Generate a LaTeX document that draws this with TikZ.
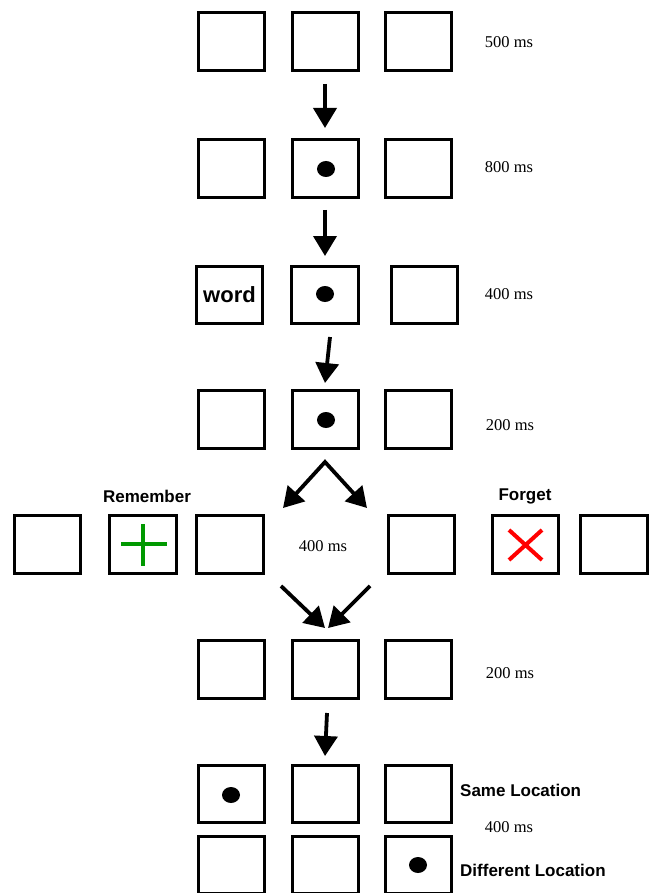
\documentclass[tikz,border=0pt]{standalone}
\usepackage{fontspec}
\setmainfont{Liberation Serif}
\setsansfont{Liberation Sans}
\usetikzlibrary{arrows.meta,shapes.geometric}
\begin{document}
\begin{tikzpicture}[x=1pt,y=-1pt,
  frame/.style={draw, line width=2.6pt, minimum width=66.5pt, minimum height=57.5pt, inner sep=0pt},
  dot/.style={fill=black, ellipse, minimum width=18pt, minimum height=16pt, inner sep=0pt},
  timing/.style={font=\fontsize{16.5}{18}\selectfont, inner sep=0pt},
  label/.style={font=\sffamily\bfseries\fontsize{17}{19}\selectfont, inner sep=0pt},
  flow/.style={line width=3.8pt, -{Triangle[width=23pt,length=20pt]}},
  twoway/.style={line width=3.8pt, line join=miter, {Triangle[width=23pt,length=20pt]}-{Triangle[width=23pt,length=20pt]}},
  greencross/.style={draw=green!60!black, line width=4pt},
  redcross/.style={draw=red, line width=4pt}]
\useasboundingbox (0,0) rectangle (650,893);
% row 1
\node[frame] (a1) at (231.5,41.5) {};
\node[frame] (a2) at (325.5,41.5) {};
\node[frame] (a3) at (418.5,41.5) {};
\node[timing] (ta) at (509,42) {500 ms};
% row 2
\node[frame] (b1) at (231.5,168.5) {};
\node[frame] (b2) at (325.5,168.5) {};
\node[frame] (b3) at (418.5,168.5) {};
\node[dot] (bd) at (326,169) {};
\node[timing] (tb) at (509,167) {800 ms};
% row 3
\node[frame, font=\sffamily\bfseries\fontsize{22}{24}\selectfont] (c1) at (229.5,295) {word};
\node[frame] (c2) at (325,295) {};
\node[frame] (c3) at (424.5,295) {};
\node[dot] (cd) at (325,294) {};
\node[timing] (tc) at (509,294) {400 ms};
% row 4
\node[frame] (d1) at (231.5,419.5) {};
\node[frame] (d2) at (325.5,419.5) {};
\node[frame] (d3) at (418.5,419.5) {};
\node[dot] (dd) at (326,420) {};
\node[timing] (td) at (510,425) {200 ms};
% row 5
\node[frame] (e1) at (47.5,544.5) {};
\node[frame] (e2) at (143,544.5) {};
\node[frame] (e3) at (230,544.5) {};
\node[frame] (e4) at (421.5,544.5) {};
\node[frame] (e5) at (525.5,544.5) {};
\node[frame] (e6) at (614,544.5) {};
\node[label] (rem) at (147,496) {Remember};
\node[label] (forg) at (525,496) {Forget};
\node[timing] (te) at (323,546) {400 ms};
\draw[greencross] (121,544) -- (167,544) (143,524) -- (143,566);
\draw[redcross] (509,530) -- (542,560) (509,560) -- (542,530);
% row 6
\node[frame] (f1) at (231.5,669.5) {};
\node[frame] (f2) at (325.5,669.5) {};
\node[frame] (f3) at (418.5,669.5) {};
\node[timing] (tf) at (510,673) {200 ms};
% row 7
\node[frame] (g1) at (231.5,794) {};
\node[frame] (g2) at (325.5,794) {};
\node[frame] (g3) at (418.5,794) {};
\node[dot] (gd) at (231,795) {};
\node[label, anchor=west] (same) at (460,790) {Same Location};
\node[timing] (tg) at (509,827) {400 ms};
% row 8
\node[frame] (h1) at (231.5,865) {};
\node[frame] (h2) at (325.5,865) {};
\node[frame] (h3) at (418.5,865) {};
\node[dot] (hd) at (418,865) {};
\node[label, anchor=west] (diff) at (460,870) {Different Location};
% arrow coordinates
\coordinate (p1s) at (325,84);  \coordinate (p1e) at (325,128);
\coordinate (p2s) at (325,210); \coordinate (p2e) at (325,256);
\coordinate (p3s) at (330,337); \coordinate (p3e) at (325,383);
\coordinate (apex) at (325,462);
\coordinate (dl) at (283,508); \coordinate (dr) at (367,508);
\coordinate (cl) at (281,586); \coordinate (cr) at (370,586);
\coordinate (ml) at (325,628); \coordinate (mr) at (328,628);
\coordinate (p6s) at (327,713); \coordinate (p6e) at (325,756);
\draw[flow] (p1s) -- (p1e);
\draw[flow] (p2s) -- (p2e);
\draw[flow] (p3s) -- (p3e);
\draw[twoway] (dl) -- (apex) -- (dr);
\draw[flow] (cl) -- (ml);
\draw[flow] (cr) -- (mr);
\draw[flow] (p6s) -- (p6e);
\end{tikzpicture}
\end{document}
